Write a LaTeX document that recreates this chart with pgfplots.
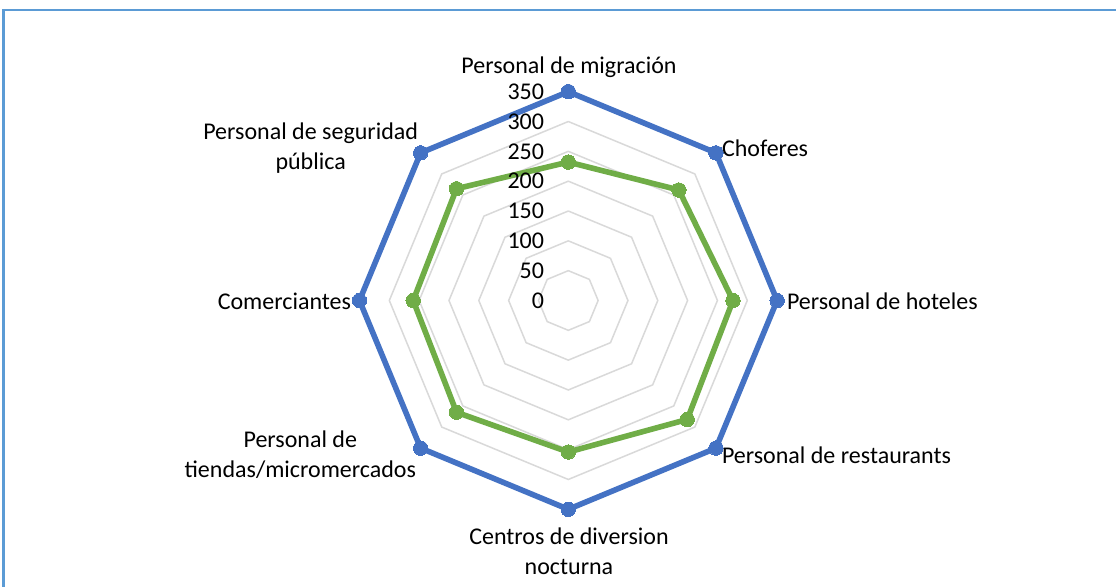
\documentclass[border=0pt]{standalone}
\usepackage{pgfplots}
\pgfplotsset{compat=1.18}
\usepackage{fontspec}
\setmainfont{Carlito}
\definecolor{xblue}{HTML}{4472C4}
\definecolor{xgreen}{HTML}{70AD47}
\definecolor{xgrid}{HTML}{D9D9D9}
\definecolor{xframe}{HTML}{5B9BD5}
\begin{document}
\fontsize{12pt}{15pt}\selectfont
\begin{tikzpicture}
\begin{scope}[x=0.5pt,y=-0.5pt]
\useasboundingbox (0,0) rectangle (1116,587);
\fill[white] (0,0) rectangle (1116,587);
\draw[xframe,line width=1pt] (3.5,630) -- (3.5,10) -- (1130,10);
\end{scope}
\begin{axis}[
  at={(284.15pt,-150.25pt)}, anchor=origin,
  x=0.29829pt, y=0.29829pt,
  xmin=-350, xmax=350, ymin=-350, ymax=350,
  hide axis, clip=false,
]
\pgfplotsinvokeforeach{50,100,150,200,250,300,350}{
  \addplot[xgrid, line width=0.75pt, data cs=polar, mark=none]
    coordinates {(90,#1) (45,#1) (0,#1) (-45,#1) (-90,#1) (-135,#1) (180,#1) (135,#1) (90,#1)};
}
\addplot[xgreen, line width=2.8pt, line join=round, data cs=polar,
  mark=*, mark size=3.6pt, mark options={fill=xgreen, draw=xgreen, line width=0pt}]
  coordinates {(90,232) (45,262) (0,276) (-45,282) (-90,254) (-135,265) (180,260) (135,265) (90,232)};
\addplot[xblue, line width=2.8pt, line join=round, data cs=polar,
  mark=*, mark size=3.6pt, mark options={fill=xblue, draw=xblue, line width=0pt}]
  coordinates {(90,350) (45,350) (0,350) (-45,350) (-90,350) (-135,350) (180,350) (135,350) (90,350)};
\end{axis}
\begin{scope}[x=0.5pt,y=-0.5pt, every node/.style={inner sep=0pt, outer sep=0pt, text=black}]
\node[anchor=east] at (544,300.5) {0};
\node[anchor=east] at (544,270.7) {50};
\node[anchor=east] at (544,240.8) {100};
\node[anchor=east] at (544,211.0) {150};
\node[anchor=east] at (544,181.2) {200};
\node[anchor=east] at (544,151.4) {250};
\node[anchor=east] at (544,121.5) {300};
\node[anchor=east] at (544,91.7) {350};
\node[anchor=center] at (569,67) {Personal de migración};
\node[anchor=west] at (722,148) {Choferes};
\node[anchor=west] at (787,301) {Personal de hoteles};
\node[anchor=west] at (722,455) {Personal de restaurants};
\node[anchor=center, align=center] at (569,551) {Centros de diversion\\nocturna};
\node[anchor=east, align=center] at (416,455) {Personal de\\tiendas/micromercados};
\node[anchor=east] at (351,301) {Comerciantes};
\node[anchor=east, align=center] at (418,148) {Personal de seguridad\\pública};
\end{scope}
\end{tikzpicture}
\end{document}
